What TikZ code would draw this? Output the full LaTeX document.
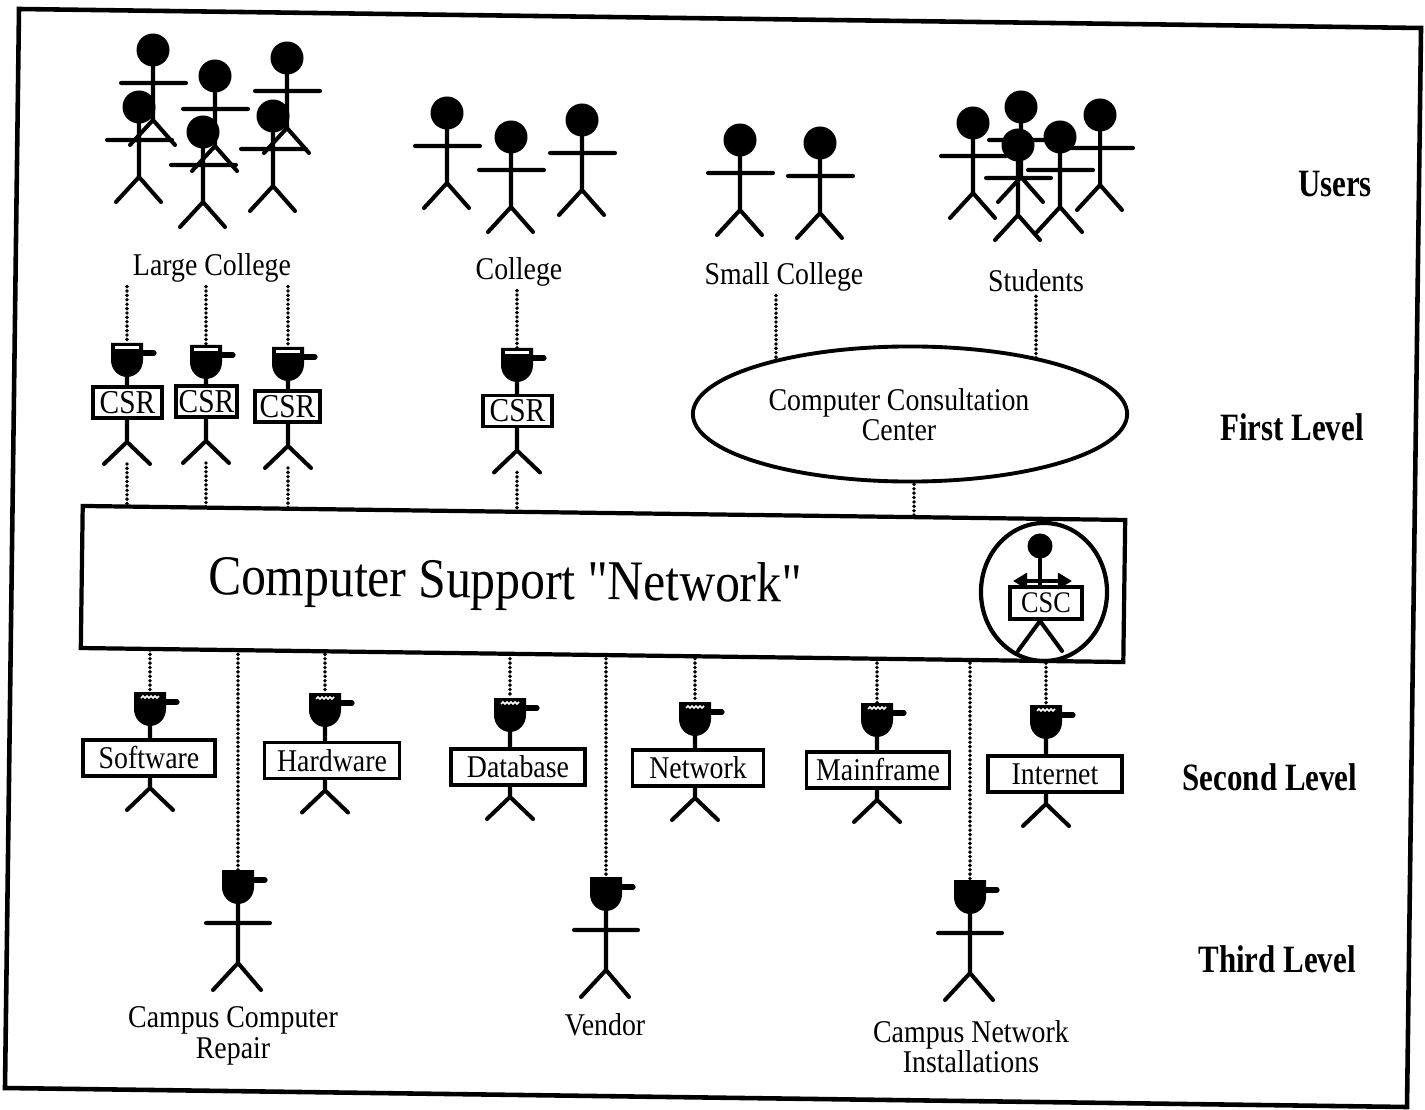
\documentclass[tikz,border=0pt]{standalone}
\usepackage{fontspec}
\setmainfont{Liberation Serif}[FakeStretch=0.88]
\newfontfamily\titlefont{Liberation Serif}[FakeStretch=0.88,Ligatures=TeXOff]
\newfontfamily\levelfont{Liberation Serif}[FakeStretch=0.8]
\usetikzlibrary{shapes.geometric,arrows.meta}
\pgfdeclarelayer{background}
\pgfsetlayers{background,main}

% head of a staff member: cap with a brim over a round face
\newcommand\capshape{%
  \fill (-16,-2) -- (-16,-19) -- (16,-19) -- (16,-2)
        arc[start angle=0,end angle=180,x radius=16,y radius=17] -- cycle;
  \draw[line width=1.5pt,line cap=round] (14,-9) -- (27,-9);}

\tikzset{
  fig/.style={line width=1.15pt,line cap=round,line join=round},
  link/.style={line width=1.1pt,line cap=round,dash pattern=on 0pt off 1.25pt},
  user/.pic={\fill (0,0) circle (16.5);
    \draw[fig] (0,0) -- (0,70) (-32,33) -- (33,33) (-23,95) -- (0,70) -- (22,95);},
  csrhead/.pic={\capshape \fill[white] (-12,-16) rectangle (12,-13);},
  deskhead/.pic={\capshape
    \draw[white,line width=0.45pt] (-9,-13) -- (-7,-15) -- (-5,-13) -- (-3,-15)
      -- (-1,-13) -- (1,-15) -- (3,-13) -- (5,-15) -- (7,-13) -- (9,-15);},
  fieldhead/.pic={\capshape
    \draw[fig] (0,14) -- (0,74) (-32,34) -- (32,34) (-25,101) -- (0,74) -- (23,101);},
  tagbox/.style={draw,fill=white,line width=1.1pt,inner sep=0pt},
  csrbox/.style={tagbox,minimum height=0.31cm,font=\fontsize{9.5}{10}\selectfont},
  deskbox/.style={tagbox,minimum height=0.36cm,font=\fontsize{9}{10}\selectfont},
  grouptext/.style={font=\fontsize{9}{8.6}\selectfont,align=center,inner sep=1pt},
  leveltext/.style={font=\levelfont\bfseries\fontsize{11}{12}\selectfont,inner sep=1pt},
}

% staff member holding a name board
% #1 name, #2 head pic, #3/#4 head centre, #5 board style, #6/#7 board centre, #8 board text, #9 body length
\newcommand\desk[9]{%
  \pic at (#3,#4) {#2};
  \path (#3,#4) coordinate (#1-h) ++(0,-19) coordinate (#1-top) ++(0,34) coordinate (#1-chin);
  \node[#5] (#1) at (#6,#7) {#8};
  \draw[fig] (#1-chin) -- (#1-chin |- #1.north)
    (#1-h |- #1.south) -- ++(0,#9) coordinate (#1-hip) -- ++(-23,22)
    (#1-hip) -- ++(23,22) ++(-23,0) coordinate (#1-foot);}

% outside specialist with cap and open arms
\newcommand\field[3]{%
  \pic at (#2,#3) {fieldhead};
  \path (#2,#3) coordinate (#1-h) ++(0,-19) coordinate (#1-top);}

\begin{document}
\begin{tikzpicture}[x=0.01cm,y=-0.01cm]
\useasboundingbox (0,0) rectangle (1425,1110);

% ---------- users ----------
\foreach \x/\y in {153/50,215/76,287/58,139/107,203/132,273/116}
  \pic at (\x,\y) {user};
\foreach \x/\y in {447/113,511/137,582/120}
  \pic at (\x,\y) {user};
\foreach \x/\y in {740/140,820/143}
  \pic at (\x,\y) {user};
\foreach \x/\y in {1021/107,973/123,1100/115,1060/137,1018/145}
  \pic at (\x,\y) {user};

\node[grouptext] (lc)  at (212,268)  {Large College};
\node[grouptext] (col) at (519,272)  {College};
\node[grouptext] (sc)  at (784,277)  {Small College};
\node[grouptext] (stu) at (1036,281) {Students};

% ---------- first level ----------
\desk{c1}{csrhead}{127}{362}{csrbox,minimum width=0.69cm}{127.5}{402.5}{CSR}{22}
\desk{c2}{csrhead}{206}{364}{csrbox,minimum width=0.61cm}{206.5}{401.5}{CSR}{22}
\desk{c3}{csrhead}{288}{366}{csrbox,minimum width=0.65cm}{287.5}{406.5}{CSR}{22}
\desk{c4}{csrhead}{517}{367}{csrbox,minimum width=0.69cm}{517.5}{411}{CSR}{22}

\node[ellipse,draw,fill=white,line width=1.1pt,minimum width=4.34cm,minimum height=1.35cm,
      inner sep=0pt] (ccc) at (910,414) {};
\node[grouptext] (ccctext) at (899,415) {Computer Consultation\\Center};

% ---------- support network ----------
\node[draw,fill=white,line width=1.2pt,minimum width=10.42cm,minimum height=1.42cm,
      inner sep=0pt,rotate=-0.77] (net) at (603,584) {};
\node[font=\titlefont\fontsize{16}{19}\selectfont,rotate=-0.77] (title) at (505,585)
  {Computer Support "Network"};

\node[ellipse,draw,line width=1.2pt,minimum width=1.26cm,minimum height=1.38cm,
      inner sep=0pt] (csc) at (1044,592) {};
\node[circle,fill,minimum size=0.25cm,inner sep=0pt] (csch) at (1040,546) {};
\node[tagbox,minimum width=0.72cm,minimum height=0.32cm,font=\fontsize{8.5}{9}\selectfont]
  (cscbox) at (1046,603) {CSC};
\draw[fig] (csch) -- (csch |- cscbox.north);
\coordinate (cscl) at (1013,581);
\coordinate (cscr) at (1072,581);
\draw[fig,{Triangle[length=4pt,width=4.5pt]}-{Triangle[length=4pt,width=4.5pt]}] (cscl) -- (cscr);
\draw[fig] (cscbox.south -| csch) -- ++(-22,30) (cscbox.south -| csch) -- ++(22,30);

% ---------- second level ----------
\desk{s1}{deskhead}{150}{711}{deskbox,minimum width=1.32cm}{149}{758}{Software}{10}
\desk{s2}{deskhead}{325}{712}{deskbox,minimum width=1.35cm}{332}{760.5}{Hardware}{10}
\desk{s3}{deskhead}{510}{717}{deskbox,minimum width=1.34cm}{518}{767}{Database}{10}
\desk{s4}{deskhead}{695}{721}{deskbox,minimum width=1.31cm}{698}{768}{Network}{10}
\desk{s5}{deskhead}{877}{722}{deskbox,minimum width=1.43cm}{878}{770}{Mainframe}{10}
\desk{s6}{deskhead}{1046}{724}{deskbox,minimum width=1.34cm}{1055}{774}{Internet}{10}

% ---------- third level ----------
\field{t1}{238}{889}
\field{t2}{606}{896}
\field{t3}{970}{899}
\node[grouptext] (t1text) at (233,1036) {Campus Computer\\Repair};
\node[grouptext] (t2text) at (605,1025) {Vendor};
\node[grouptext] (t3text) at (971,1047) {Campus Network\\Installations};

% ---------- level captions ----------
\node[leveltext] (lvu) at (1335,184) {Users};
\node[leveltext] (lv1) at (1292,427) {First Level};
\node[leveltext] (lv2) at (1270,777) {Second Level};
\node[leveltext] (lv3) at (1277,959) {Third Level};

% ---------- dotted links (behind the filled shapes) ----------
\begin{pgfonlayer}{background}
  \draw[link] (c1-top |- lc.south) -- (c1-top);
  \draw[link] (c2-top |- lc.south) -- (c2-top);
  \draw[link] (c3-top |- lc.south) -- (c3-top);
  \draw[link] (c4-top |- col.south) -- (c4-top);
  \foreach \n in {c1,c2,c3,c4}
    \draw[link] (\n-foot) -- (\n-foot |- net.center);
  \draw[link] ([xshift=-0.08cm]sc.south) -- ([xshift=-0.08cm]sc.south |- ccc.center);
  \draw[link] (stu.south) -- (stu.south |- ccc.center);
  \draw[link] ([xshift=0.04cm]ccc.center) -- ([xshift=0.04cm]ccc.center |- net.center);
  \foreach \n in {s1,s2,s3,s4,s5,s6,t1,t2,t3}
    \draw[link] (\n-top |- net.center) -- (\n-top);
\end{pgfonlayer}

% ---------- outer frame ----------
\draw[line width=1.3pt] (19,9) -- (1421,28) -- (1407,1107) -- (5,1088) -- cycle;
\end{tikzpicture}
\end{document}
